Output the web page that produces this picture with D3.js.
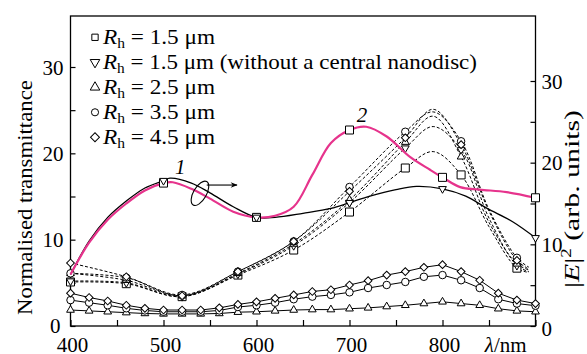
<!DOCTYPE html>
<html><head><meta charset="utf-8">
<script src="https://cdn.jsdelivr.net/npm/d3@7"></script>
</head><body style="margin:0;background:#fff">
<svg id="chart" width="587" height="354" style="display:block;font-family:'Liberation Serif'"></svg>
<script>
// ---------- data ----------
const xTickValues = [400,450,500,550,600,650,700,750,800,850,900];
const xTickLabels = ["400","","500","","600","","700","","800","",""];
const leftTickValues = [0,5,10,15,20,25,30];
const leftTickLabels = ["0","","10","","20","","30"];
const rightTickValues = [0,5,10,15,20,25,30];
const rightTickLabels = ["0","","10","","20","","30"];

const legendValues = ["1.5 μm", "1.5 μm (without a central nanodisc)", "2.5 μm", "3.5 μm", "4.5 μm"];
const legendSymbols = ["square","triangleDown","triangleUp","circle","diamond"];

// curve 2 (magenta), right axis
const curve2Lambda = [400,420,440,460,480,500,510,530,550,575,600,620,640,660,680,700,718,740,765,787,800,819,840,869,900];
const curve2Values = [6.3,10.2,13.0,15.0,16.6,17.5,17.6,16.8,15.6,14.0,13.3,13.5,14.6,18.5,22.4,24.0,24.4,23.2,20.7,19.1,18.2,17.0,16.7,16.4,15.7];
const curve2Markers = [500,600,700,800,900];
// curve 1 (black), right axis
const curve1Lambda = [400,420,440,460,480,500,507,530,550,575,600,620,650,680,700,722,750,772,800,825,848,875,900];
const curve1Values = [6.3,10.4,13.3,15.3,16.9,17.8,18.1,17.5,16.3,14.6,13.3,13.3,13.8,14.4,15.1,15.9,16.7,17.1,16.8,15.9,14.4,12.8,10.8];
const curve1Markers = [500,600,700,800,900];

// dashed curves, left axis
const dashLambda = [400,460,520,580,640,700,760,790,820,850,880,893];
const dashMarkers = [400,460,520,580,640,700,760,820,880];
const dashSquare       = [5.1,4.9,3.4,5.9,8.8,13.2,18.3,20.2,17.5,11.5,6.7,6.2];
const dashTriangleDown = [5.2,5.0,3.4,6.0,9.3,14.3,20.6,23.1,20.4,12.5,7.0,6.3];
const dashTriangleUp   = [6.1,5.3,3.5,6.1,9.5,14.6,21.3,24.3,19.6,12.0,7.2,6.5];
const dashCircle       = [6.1,5.6,3.6,6.3,9.8,16.1,22.5,24.8,21.4,13.5,7.9,6.8];
const dashDiamond      = [7.3,5.7,3.5,6.3,9.8,15.6,21.8,25.1,21.0,13.3,7.6,6.6];

// lower solid curves, left axis
const lowLambda = [400,420,440,460,480,500,520,540,560,580,600,620,640,660,680,700,720,740,760,780,800,820,840,860,880,900];
const lowDiamond  = [3.8,3.3,2.9,2.4,2.05,1.85,1.85,1.85,2.1,2.5,2.8,3.2,3.6,4.0,4.2,4.75,5.25,5.9,6.3,6.8,7.1,6.3,5.3,3.8,3.0,2.6];
const lowCircle   = [3.0,2.7,2.4,2.05,1.8,1.65,1.65,1.65,1.8,2.2,2.4,2.7,3.1,3.4,3.6,3.9,4.4,4.75,5.1,5.7,5.9,5.3,4.4,3.1,2.6,2.35];
const lowTriangle = [1.85,1.75,1.65,1.55,1.45,1.4,1.4,1.4,1.45,1.6,1.65,1.75,1.85,1.9,1.9,2.0,2.1,2.25,2.4,2.6,2.8,2.6,2.4,2.0,1.75,1.65];

// ---------- drawing ----------
const SERIF = "'Liberation Serif'";
const svg = d3.select("#chart");
const FONT = 21;
const TOP = 16;
const x  = d3.scaleLinear().domain([400,900]).range([70.5,535.5]);
const yL = d3.scaleLinear().domain([0,30]).range([326,67]);
const yR = d3.scaleLinear().domain([0,30]).range([326,81]);
const PINK = "#e6338c";

function txt(sel){ return sel.style("font-family", SERIF).style("font-size", FONT+"px").attr("fill","#000"); }

function symbolPath(kind, size){
  if(kind==="square") return d3.symbol(d3.symbolSquare, size)();
  if(kind==="circle") return d3.symbol(d3.symbolCircle, size)();
  if(kind==="triangleUp" || kind==="triangleDown") return d3.symbol(d3.symbolTriangle, size)();
  if(kind==="diamond") return d3.symbol(d3.symbolSquare, size)();
}
function symbolRotate(kind){
  if(kind==="triangleDown") return " rotate(180)";
  if(kind==="diamond") return " rotate(45)";
  return "";
}
const symbolSize = {square:64, circle:44, triangleUp:26, triangleDown:26, diamond:30};

function drawMarkers(g, kind, pts){
  g.selectAll(null).data(pts).join("path")
    .attr("d", symbolPath(kind, symbolSize[kind]))
    .attr("transform", d => `translate(${d[0]},${d[1]})` + symbolRotate(kind))
    .attr("fill","#fff").attr("stroke","#000").attr("stroke-width",1);
}

// frame
svg.append("rect")
  .attr("x", x(400)).attr("y", TOP)
  .attr("width", x(900)-x(400)).attr("height", yL(0)-TOP)
  .attr("fill","none").attr("stroke","#000").attr("stroke-width",1.3);

// axes
function styleAxis(g){
  g.attr("font-family", null).attr("font-size", null);
  g.select(".domain").remove();
  g.selectAll(".tick line").attr("stroke","#000").attr("stroke-width",1.2);
  txt(g.selectAll(".tick text"));
}
const gx = svg.append("g").attr("transform",`translate(0,${yL(0)})`)
  .call(d3.axisBottom(x).tickValues(xTickValues).tickSize(-6).tickSizeOuter(0)
        .tickFormat((d,i)=>xTickLabels[i]));
styleAxis(gx);
gx.selectAll(".tick text").attr("y",26).attr("dy",0).attr("dx",1.5);

const gl = svg.append("g").attr("transform",`translate(${x(400)},0)`)
  .call(d3.axisLeft(yL).tickValues(leftTickValues).tickSize(-5).tickSizeOuter(0)
        .tickFormat((d,i)=>leftTickLabels[i]));
styleAxis(gl);
gl.selectAll(".tick text").attr("x",-7).attr("dy","0.34em");
gl.selectAll(".tick text").filter(d=>d===0).attr("x",-10).attr("dy","0.3em");

const gr = svg.append("g").attr("transform",`translate(${x(900)},0)`)
  .call(d3.axisRight(yR).tickValues(rightTickValues).tickSize(-5).tickSizeOuter(0)
        .tickFormat((d,i)=>rightTickLabels[i]));
styleAxis(gr);
gr.selectAll(".tick text").attr("x",6).attr("dy","0.34em");
gr.selectAll(".tick text").filter(d=>d===0).attr("dy","0.45em");

// x axis unit label
svg.append("text").attr("x", x(868)).attr("y", 352).attr("text-anchor","middle")
  .call(txt)
  .call(t=>{ t.append("tspan").attr("font-style","italic").text("λ"); t.append("tspan").text("/nm"); });

// axis titles
svg.append("text").attr("transform","translate(32,197.5) rotate(-90)")
  .attr("text-anchor","middle").call(txt)
  .attr("textLength",235).attr("lengthAdjust","spacingAndGlyphs")
  .text("Normalised transmittance");

svg.append("text").attr("transform","translate(579,199) rotate(-90)")
  .attr("text-anchor","middle").call(txt).style("font-size","22px")
  .attr("textLength",178).attr("lengthAdjust","spacingAndGlyphs")
  .call(t=>{
    t.append("tspan").text("|");
    t.append("tspan").attr("font-style","italic").text("E");
    t.append("tspan").text("|");
    t.append("tspan").attr("dy",-8).style("font-size","14px").text("2");
    t.append("tspan").attr("dy",8).text(" (arb. units)");
  });

// lower solid curves
const lineLin = (ys, data) => d3.line().x((d,i)=>x(lowLambda[i])).y(d=>ys(d))(data);
const lowSeries = [[lowTriangle,"triangleUp"],[lowCircle,"circle"],[lowDiamond,"diamond"]];
lowSeries.forEach(([vals])=>{
  svg.append("path").attr("d", lineLin(yL, vals)).attr("fill","none").attr("stroke","#000").attr("stroke-width",1);
});
lowSeries.forEach(([vals,kind])=>{
  drawMarkers(svg.append("g"), kind, vals.map((v,i)=>[x(lowLambda[i]), yL(v)]));
});

// dashed curves
const dashSeries = [[dashSquare,"square"],[dashTriangleDown,"triangleDown"],[dashTriangleUp,"triangleUp"],[dashCircle,"circle"],[dashDiamond,"diamond"]];
const dashLine = d3.line().x((d,i)=>x(dashLambda[i])).y(d=>yL(d)).curve(d3.curveCatmullRom.alpha(0.5));
dashSeries.forEach(([vals])=>{
  svg.append("path").attr("d", dashLine(vals)).attr("fill","none").attr("stroke","#000")
    .attr("stroke-width",1).attr("stroke-dasharray","3,2");
});
dashSeries.forEach(([vals,kind])=>{
  const pts = dashMarkers.map(l=>[x(l), yL(vals[dashLambda.indexOf(l)])]);
  drawMarkers(svg.append("g"), kind, pts);
});

// curve 1 (black) & curve 2 (magenta)
const c1Line = d3.line().x((d,i)=>x(curve1Lambda[i])).y(d=>yR(d)).curve(d3.curveCatmullRom.alpha(0.5));
const c2Line = d3.line().x((d,i)=>x(curve2Lambda[i])).y(d=>yR(d)).curve(d3.curveCatmullRom.alpha(0.5));
svg.append("path").attr("d", c1Line(curve1Values)).attr("fill","none").attr("stroke","#000").attr("stroke-width",1.3);
svg.append("path").attr("d", c2Line(curve2Values)).attr("fill","none").attr("stroke",PINK).attr("stroke-width",2.2);
drawMarkers(svg.append("g"), "square", curve2Markers.map(l=>[x(l), yR(curve2Values[curve2Lambda.indexOf(l)])]));
drawMarkers(svg.append("g"), "triangleDown", curve1Markers.map(l=>[x(l), yR(curve1Values[curve1Lambda.indexOf(l)])]));

// curve labels
svg.append("text").attr("x", x(518)).attr("y", yR(18.6)).attr("text-anchor","middle")
  .call(txt).attr("font-style","italic").text("1");
svg.append("text").attr("x", x(713.5)).attr("y", yR(25.0)).attr("text-anchor","middle")
  .call(txt).attr("font-style","italic").text("2");

// ellipse + arrow annotation
const ecx = x(539.2), ecy = yR(16.25);
svg.append("ellipse").attr("cx",ecx).attr("cy",ecy).attr("rx",6.5).attr("ry",13.5)
  .attr("transform",`rotate(30,${ecx},${ecy})`).attr("fill","none").attr("stroke","#000").attr("stroke-width",1.1);
svg.append("defs").append("marker").attr("id","arr").attr("viewBox","0 0 10 10")
  .attr("refX",9).attr("refY",5).attr("markerWidth",9).attr("markerHeight",7)
  .attr("markerUnits","userSpaceOnUse").attr("orient","auto")
  .append("path").attr("d","M0,1 L10,5 L0,9 L3,5 Z").attr("fill","#000");
svg.append("line").attr("x1", x(546.5)).attr("x2", x(579)).attr("y1", yR(17.26)).attr("y2", yR(17.26))
  .attr("stroke","#000").attr("stroke-width",1.1).attr("marker-end","url(#arr)");

// legend
const legend = svg.append("g");
legendValues.forEach((lab,i)=>{
  const by = 44.3 + 25*i;
  legend.append("path").attr("d", symbolPath(legendSymbols[i], 40))
    .attr("transform", `translate(95,${by-7})` + symbolRotate(legendSymbols[i]))
    .attr("fill","#fff").attr("stroke","#000").attr("stroke-width",1);
  const t = legend.append("text").attr("x",103).attr("y",by).call(txt)
    .attr("textLength", i===1 ? 374 : 112).attr("lengthAdjust","spacingAndGlyphs");
  t.append("tspan").attr("font-style","italic").text("R");
  t.append("tspan").attr("dy",4).style("font-size","14px").text("h");
  t.append("tspan").attr("dy",-4).text(" = " + lab);
});
</script>
</body></html>
